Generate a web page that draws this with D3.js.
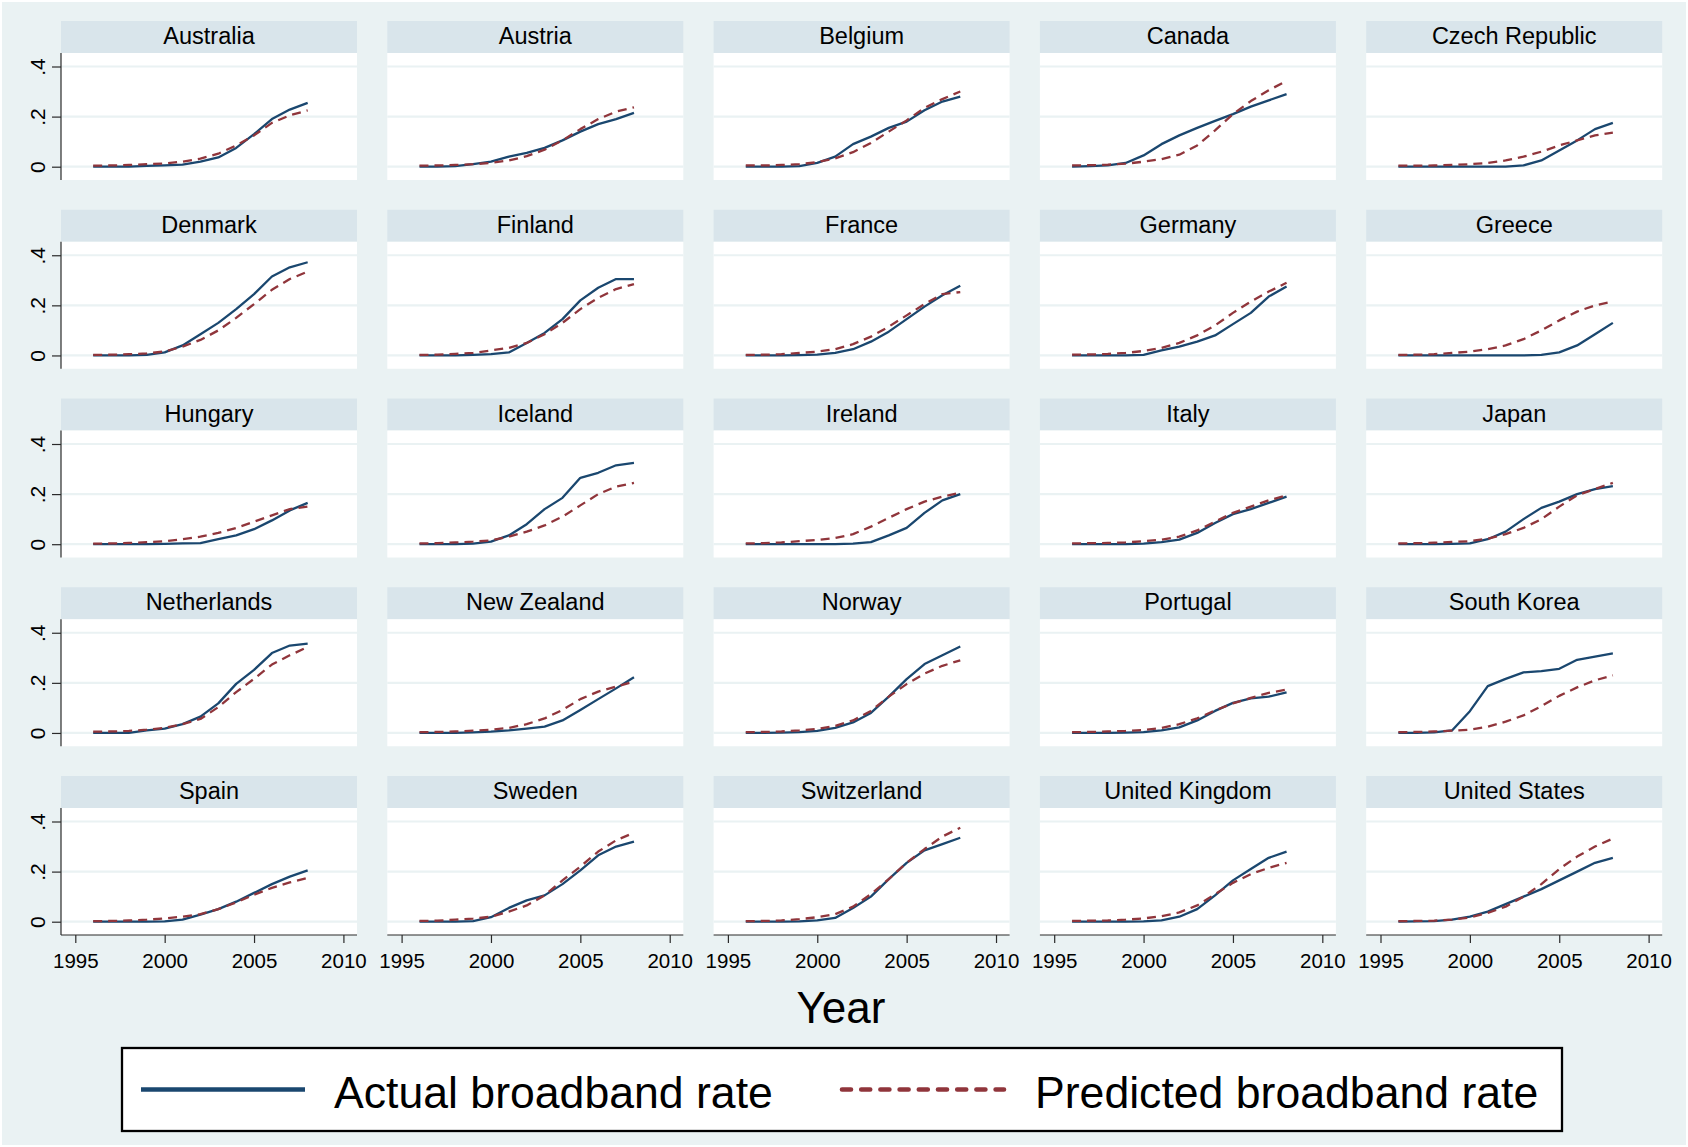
<!DOCTYPE html>
<html>
<head>
<meta charset="utf-8">
<script src="https://cdn.jsdelivr.net/npm/d3@7"></script>
<style>
  html, body { margin: 0; padding: 0; background: #ffffff; }
  svg { display: block; }
  text { font-family: "Liberation Sans", Arial, Helvetica, sans-serif; fill: #000; }
</style>
</head>
<body>
<svg id="chart" width="1688" height="1147"></svg>
<script>
// ---------------- DATA ----------------
const countries = ["Australia","Austria","Belgium","Canada","Czech Republic",
  "Denmark","Finland","France","Germany","Greece",
  "Hungary","Iceland","Ireland","Italy","Japan",
  "Netherlands","New Zealand","Norway","Portugal","South Korea",
  "Spain","Sweden","Switzerland","United Kingdom","United States"];

const years = [1996,1997,1998,1999,2000,2001,2002,2003,2004,2005,2006,2007,2008];

// Actual broadband rate, one row per country (same order as `countries`)
const actualRate = [
  [0,0,0,0.003,0.005,0.008,0.02,0.037,0.075,0.13,0.19,0.228,0.255],      // Australia
  [0,0,0.002,0.01,0.02,0.04,0.055,0.075,0.105,0.14,0.17,0.19,0.215],     // Austria
  [0,0,0,0.002,0.015,0.04,0.09,0.12,0.155,0.18,0.225,0.26,0.28],         // Belgium
  [0,0.002,0.005,0.015,0.045,0.09,0.125,0.155,0.183,0.21,0.24,0.265,0.29], // Canada
  [0,0,0,0,0,0,0,0.005,0.025,0.065,0.105,0.15,0.175],                    // Czech Republic
  [0,0,0,0.002,0.012,0.04,0.085,0.13,0.185,0.245,0.315,0.352,0.372],     // Denmark
  [0,0,0,0.002,0.005,0.012,0.05,0.09,0.145,0.22,0.27,0.305,0.305],       // Finland
  [0,0,0,0.001,0.003,0.01,0.025,0.055,0.095,0.145,0.195,0.24,0.278],     // France
  [0,0,0,0,0.002,0.02,0.035,0.055,0.08,0.125,0.17,0.235,0.275],          // Germany
  [0,0,0,0,0,0,0,0,0.002,0.012,0.04,0.085,0.13],                         // Greece
  [0,0,0,0,0.001,0.003,0.004,0.02,0.035,0.06,0.095,0.135,0.165],         // Hungary
  [0,0,0,0.002,0.01,0.035,0.08,0.14,0.185,0.265,0.285,0.315,0.325],      // Iceland
  [0,0,0,0,0,0,0.002,0.008,0.035,0.065,0.125,0.175,0.2],                 // Ireland
  [0,0,0,0,0.002,0.008,0.018,0.045,0.085,0.12,0.14,0.165,0.19],          // Italy
  [0,0,0,0.001,0.003,0.02,0.05,0.1,0.145,0.17,0.2,0.22,0.232],           // Japan
  [0,0,0,0.01,0.017,0.035,0.065,0.118,0.196,0.252,0.319,0.349,0.357],    // Netherlands
  [0,0,0,0.002,0.005,0.01,0.017,0.025,0.05,0.092,0.135,0.178,0.222],     // New Zealand
  [0,0,0.001,0.003,0.008,0.02,0.042,0.08,0.145,0.215,0.275,0.31,0.345],  // Norway
  [0,0,0,0.001,0.003,0.01,0.022,0.05,0.088,0.12,0.138,0.145,0.162],      // Portugal
  [0,0,0.002,0.01,0.087,0.187,0.216,0.242,0.247,0.256,0.292,0.305,0.318],// South Korea
  [0,0,0,0,0.001,0.008,0.028,0.05,0.08,0.115,0.15,0.18,0.205],           // Spain
  [0,0,0,0.002,0.018,0.055,0.085,0.105,0.15,0.205,0.265,0.3,0.32],       // Sweden
  [0,0,0,0.001,0.005,0.015,0.055,0.1,0.17,0.235,0.285,0.31,0.335],       // Switzerland
  [0,0,0,0,0.001,0.005,0.02,0.05,0.105,0.165,0.21,0.255,0.28],           // United Kingdom
  [0,0.001,0.002,0.008,0.02,0.04,0.07,0.1,0.13,0.165,0.2,0.235,0.255]    // United States
];

// Predicted broadband rate, one row per country
const predictedRate = [
  [0.004,0.005,0.007,0.01,0.013,0.02,0.032,0.052,0.085,0.125,0.175,0.205,0.225],   // Australia
  [0.004,0.005,0.007,0.01,0.015,0.025,0.042,0.068,0.105,0.15,0.19,0.22,0.237],     // Austria
  [0.005,0.005,0.007,0.01,0.018,0.033,0.058,0.095,0.14,0.185,0.235,0.27,0.3],      // Belgium
  [0.005,0.006,0.008,0.012,0.02,0.03,0.048,0.085,0.145,0.21,0.262,0.305,0.343],    // Canada
  [0.004,0.004,0.005,0.007,0.01,0.015,0.025,0.04,0.06,0.085,0.105,0.125,0.136],    // Czech Republic
  [0.002,0.003,0.005,0.008,0.016,0.035,0.062,0.1,0.15,0.205,0.262,0.305,0.335],    // Denmark
  [0.002,0.003,0.006,0.01,0.02,0.03,0.05,0.085,0.13,0.185,0.23,0.265,0.285],       // Finland
  [0.002,0.003,0.005,0.01,0.015,0.025,0.045,0.075,0.115,0.16,0.205,0.245,0.253],   // France
  [0.003,0.004,0.006,0.01,0.018,0.03,0.05,0.08,0.12,0.17,0.215,0.255,0.29],        // Germany
  [0.002,0.003,0.005,0.01,0.015,0.025,0.04,0.065,0.1,0.14,0.175,0.2,0.215],        // Greece
  [0.002,0.003,0.005,0.008,0.012,0.02,0.03,0.045,0.065,0.09,0.115,0.14,0.15],      // Hungary
  [0.003,0.004,0.007,0.01,0.015,0.03,0.05,0.075,0.11,0.155,0.2,0.23,0.245],        // Iceland
  [0.003,0.004,0.007,0.012,0.017,0.025,0.04,0.07,0.105,0.14,0.17,0.19,0.205],      // Ireland
  [0.003,0.004,0.005,0.007,0.012,0.018,0.03,0.055,0.09,0.125,0.15,0.175,0.195],    // Italy
  [0.003,0.004,0.006,0.009,0.012,0.022,0.04,0.065,0.1,0.15,0.195,0.22,0.245],      // Japan
  [0.005,0.006,0.008,0.013,0.02,0.035,0.056,0.103,0.163,0.216,0.273,0.31,0.343],   // Netherlands
  [0.003,0.004,0.006,0.009,0.013,0.02,0.035,0.058,0.092,0.135,0.165,0.185,0.205],  // New Zealand
  [0.003,0.004,0.006,0.01,0.016,0.028,0.05,0.088,0.145,0.195,0.237,0.268,0.29],    // Norway
  [0.003,0.004,0.006,0.008,0.012,0.02,0.035,0.058,0.09,0.118,0.14,0.16,0.173],     // Portugal
  [0.003,0.004,0.006,0.009,0.013,0.025,0.045,0.07,0.107,0.148,0.182,0.21,0.23],    // South Korea
  [0.002,0.003,0.005,0.008,0.013,0.02,0.03,0.05,0.077,0.108,0.135,0.157,0.175],    // Spain
  [0.003,0.004,0.008,0.012,0.02,0.04,0.065,0.105,0.165,0.22,0.28,0.325,0.355],     // Sweden
  [0.002,0.003,0.005,0.01,0.018,0.03,0.06,0.11,0.17,0.235,0.29,0.34,0.375],        // Switzerland
  [0.003,0.004,0.005,0.008,0.013,0.022,0.037,0.065,0.11,0.155,0.19,0.215,0.235],   // United Kingdom
  [0.002,0.003,0.004,0.008,0.017,0.035,0.06,0.1,0.15,0.21,0.26,0.3,0.332]          // United States
];

const xTicks = [1995, 2000, 2005, 2010];
const yTicks = [0, 0.2, 0.4];
const yTickLabels = ["0", ".2", ".4"];
const seriesNames = ["Actual broadband rate", "Predicted broadband rate"];

// ---------------- LAYOUT / STYLE ----------------
const W = 1688, H = 1147;
const nCols = 5;
const colLeft0 = 61, colPitch = 326.3, panelW = 296;
const rowTop0 = 21, rowPitch = 188.75, stripH = 32, plotBottomOff = 159;
const bg = "#EAF2F3", stripFill = "#D9E5EB", gridCol = "#EAF2F3";
const actualCol = "#1A476F", predCol = "#90353B";
const axisCol = "#2a2a2a";
const fontFam = '"Liberation Sans", Arial, Helvetica, sans-serif';

const svg = d3.select("#chart");
svg.append("rect").attr("x", 0).attr("y", 0).attr("width", W).attr("height", H).attr("fill", "#ffffff");
svg.append("rect").attr("x", 2).attr("y", 2).attr("width", W - 4).attr("height", H - 4).attr("fill", bg);

const x = d3.scaleLinear().domain([1994.2, 2010.76]).range([0, panelW]);
const plotH = plotBottomOff - stripH; // 127
const y = d3.scaleLinear().domain([0, 0.4]).range([113.7, 13.5]);

const line = d3.line().x((d, i) => x(years[i])).y(d => y(d)).curve(d3.curveLinear);

const nRows = Math.ceil(countries.length / nCols);

countries.forEach((name, k) => {
  const c = k % nCols, r = Math.floor(k / nCols);
  const gx = colLeft0 + c * colPitch;
  const gy = rowTop0 + r * rowPitch;
  const g = svg.append("g").attr("transform", `translate(${gx},${gy})`);

  // strip
  g.append("rect").attr("x", 0).attr("y", 0).attr("width", panelW).attr("height", stripH).attr("fill", stripFill);
  g.append("text").attr("x", panelW / 2).attr("y", 23)
    .attr("text-anchor", "middle").style("font-size", "23.5px").style("font-family", fontFam)
    .text(name);

  // plot area
  const p = g.append("g").attr("transform", `translate(0,${stripH})`);
  p.append("rect").attr("x", 0).attr("y", 0).attr("width", panelW).attr("height", plotH).attr("fill", "#ffffff");

  // grid
  p.selectAll("line.grid").data(yTicks).enter().append("line")
    .attr("class", "grid")
    .attr("x1", 0).attr("x2", panelW)
    .attr("y1", d => y(d)).attr("y2", d => y(d))
    .attr("stroke", gridCol).attr("stroke-width", 2.2);

  // y axis (first column only)
  if (c === 0) {
    const ya = p.append("g").call(d3.axisLeft(y).tickValues(yTicks).tickSize(9).tickFormat((d, i) => yTickLabels[i]));
    ya.select(".domain").attr("d", `M0,0V${plotH}`).attr("stroke", axisCol).attr("stroke-width", 1.2);
    ya.selectAll(".tick line").attr("stroke", axisCol).attr("stroke-width", 1.2);
    ya.selectAll(".tick text")
      .attr("transform", "rotate(-90)")
      .attr("x", 0).attr("y", -16).attr("dy", 0)
      .attr("text-anchor", "middle")
      .style("font-size", "21px").style("font-family", fontFam).attr("fill", "#000");
  }

  // x axis (bottom row only)
  if (r === nRows - 1) {
    const xa = p.append("g").attr("transform", `translate(0,${plotH})`)
      .call(d3.axisBottom(x).tickValues(xTicks).tickSize(8).tickPadding(10).tickFormat(d3.format("d")));
    xa.select(".domain").attr("d", `M0,0H${panelW}`).attr("stroke", axisCol).attr("stroke-width", 1.2);
    xa.selectAll(".tick line").attr("stroke", axisCol).attr("stroke-width", 1.2);
    xa.selectAll(".tick text").style("font-size", "20.5px").style("font-family", fontFam).attr("fill", "#000");
  }

  // lines
  p.append("path").datum(actualRate[k]).attr("d", line)
    .attr("fill", "none").attr("stroke", actualCol).attr("stroke-width", 2.3)
    .attr("stroke-linejoin", "round");
  p.append("path").datum(predictedRate[k]).attr("d", line)
    .attr("fill", "none").attr("stroke", predCol).attr("stroke-width", 2.3)
    .attr("stroke-dasharray", "9,6").attr("stroke-linejoin", "round");
});

// x axis title
svg.append("text").attr("x", 841).attr("y", 1023)
  .attr("text-anchor", "middle").style("font-size", "44px").style("font-family", fontFam)
  .text("Year");

// legend
const lg = svg.append("g");
lg.append("rect").attr("x", 122).attr("y", 1048).attr("width", 1440).attr("height", 83)
  .attr("fill", "#ffffff").attr("stroke", "#000").attr("stroke-width", 2.3);
lg.append("line").attr("x1", 141).attr("x2", 305).attr("y1", 1089.5).attr("y2", 1089.5)
  .attr("stroke", actualCol).attr("stroke-width", 4.6);
lg.append("text").attr("x", 334).attr("y", 1108).style("font-size", "44.6px").style("font-family", fontFam)
  .text(seriesNames[0]);
lg.append("line").attr("x1", 842).attr("x2", 1004).attr("y1", 1089.5).attr("y2", 1089.5)
  .attr("stroke", predCol).attr("stroke-width", 4.6).attr("stroke-linecap", "round")
  .attr("stroke-dasharray", "9,10.2");
lg.append("text").attr("x", 1035).attr("y", 1108).style("font-size", "44.6px").style("font-family", fontFam)
  .text(seriesNames[1]);
</script>
</body>
</html>
